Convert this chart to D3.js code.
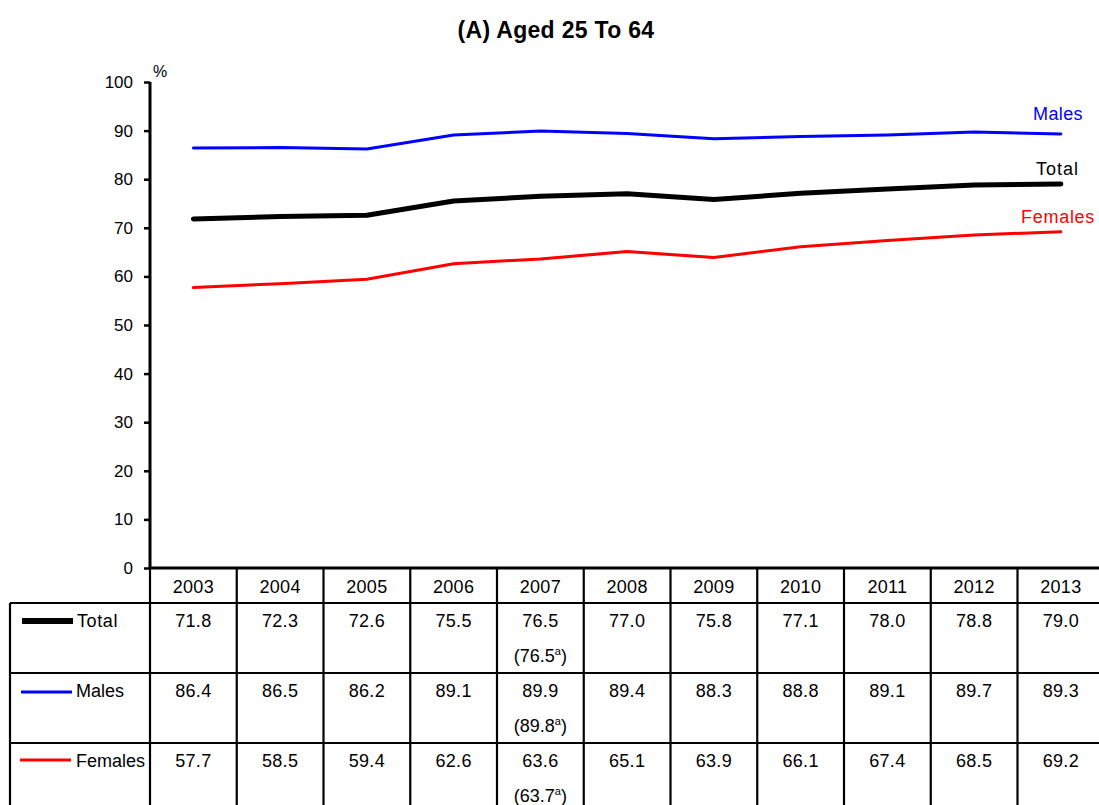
<!DOCTYPE html>
<html><head><meta charset="utf-8">
<script src="https://cdn.jsdelivr.net/npm/d3@7"></script>
<style>body{margin:0;background:#fff}svg{display:block;font-family:"Liberation Sans",Arial,sans-serif}</style>
</head><body><svg id="c" width="1099" height="805"></svg>
<script>
const years = ["2003","2004","2005","2006","2007","2008","2009","2010","2011","2012","2013"];
const total = [71.8,72.3,72.6,75.5,76.5,77.0,75.8,77.1,78.0,78.8,79.0];
const males = [86.4,86.5,86.2,89.1,89.9,89.4,88.3,88.8,89.1,89.7,89.3];
const females = [57.7,58.5,59.4,62.6,63.6,65.1,63.9,66.1,67.4,68.5,69.2];
const notes = {total:{"2007":"76.5"}, males:{"2007":"89.8"}, females:{"2007":"63.7"}};
const yTicks = [0,10,20,30,40,50,60,70,80,90,100];

const series = [
  {key:"total", name:"Total", values:total, color:"#000", width:5, lx:1079, ly:175, ls:1},
  {key:"males", name:"Males", values:males, color:"#0000ff", width:3, lx:1083, ly:120, ls:0.4},
  {key:"females", name:"Females", values:females, color:"#ff0000", width:3, lx:1095, ly:223, ls:0.7}
];

const svg = d3.select("#c");
const x0 = 150, colW = 86.75;
const x = d3.scaleBand().domain(years).range([x0, x0 + colW*years.length]);
const y = d3.scaleLinear().domain([0,100]).range([568, 82]);

svg.append("text").attr("x",556).attr("y",38).attr("text-anchor","middle")
  .attr("font-weight","bold").attr("font-size",23).attr("letter-spacing",0.3).text("(A) Aged 25 To 64");

// y axis
const ya = svg.append("g").attr("transform",`translate(${x0},0)`)
  .call(d3.axisLeft(y).tickValues(yTicks).tickSize(6).tickPadding(11));
ya.select(".domain").attr("stroke","#000").attr("stroke-width",3).attr("d",`M0,${y(100)}V${y(0)}`);
ya.selectAll(".tick line").attr("stroke","#000").attr("stroke-width",2.5);
ya.selectAll(".tick text").attr("font-size",17).attr("fill","#000").attr("font-family","'Liberation Sans',Arial,sans-serif");
svg.append("text").attr("x",153).attr("y",77).attr("font-size",16).text("%");

// lines
const line = d3.line().x((d,i)=>x(years[i])+x.bandwidth()/2).y(d=>y(d)).curve(d3.curveLinear);
series.forEach(s=>{
  svg.append("path").datum(s.values).attr("d",line).attr("fill","none")
    .attr("stroke",s.color).attr("stroke-width",s.width).attr("stroke-linecap","round").attr("stroke-linejoin","round");
  svg.append("text").attr("x",s.lx).attr("y",s.ly).attr("text-anchor","end")
    .attr("font-size",18).attr("letter-spacing",s.ls).attr("fill",s.color).text(s.name);
});

// table
const tY0 = 568, hdrH = 35, rowH = 70, tLeft = 10;
const tRight = x0 + colW*years.length;
const tg = svg.append("g").attr("stroke","#000").attr("stroke-width",2.2);
tg.append("line").attr("x1",x0).attr("x2",tRight).attr("y1",tY0).attr("y2",tY0).attr("stroke-width",3);
[0,1,2,3].forEach(i=>{
  const yy = tY0+hdrH+rowH*i;
  tg.append("line").attr("x1",tLeft).attr("x2",tRight).attr("y1",yy).attr("y2",yy);
});
tg.append("line").attr("x1",tLeft).attr("x2",tLeft).attr("y1",tY0+hdrH).attr("y2",tY0+hdrH+rowH*3);
years.concat(["end"]).forEach((yr,i)=>{
  const xx = x0 + colW*i;
  tg.append("line").attr("x1",xx).attr("x2",xx).attr("y1",tY0).attr("y2",tY0+hdrH+rowH*3);
});
svg.selectAll(".yr").data(years).join("text").attr("class","yr")
  .attr("x",d=>x(d)+x.bandwidth()/2).attr("y",tY0+25).attr("text-anchor","middle")
  .attr("font-size",18).attr("letter-spacing",0.3).text(d=>d);
const legY = [621,692,760];
series.forEach((s,r)=>{
  const ry = tY0+hdrH+rowH*r;
  svg.append("line").attr("x1",22-r).attr("x2",73-r).attr("y1",legY[r]).attr("y2",legY[r])
    .attr("stroke",s.color).attr("stroke-width",s.key==="total"?6:3);
  svg.append("text").attr("x",s.key==="total"?77:76).attr("y",ry+24).attr("font-size",18).attr("letter-spacing",s.key==="total"?0.6:0).text(s.name);
  s.values.forEach((v,i)=>{
    const cx = x(years[i])+x.bandwidth()/2;
    svg.append("text").attr("x",cx).attr("y",ry+24).attr("text-anchor","middle")
      .attr("font-size",18).attr("letter-spacing",0.3).text(v.toFixed(1));
    const n = notes[s.key][years[i]];
    if(n){
      const t = svg.append("text").attr("x",cx).attr("y",ry+59).attr("text-anchor","middle").attr("font-size",18);
      t.append("tspan").text("("+n);
      t.append("tspan").attr("font-size",11).attr("dy",-7).text("a");
      t.append("tspan").attr("dy",7).text(")");
    }
  });
});
</script></body></html>
